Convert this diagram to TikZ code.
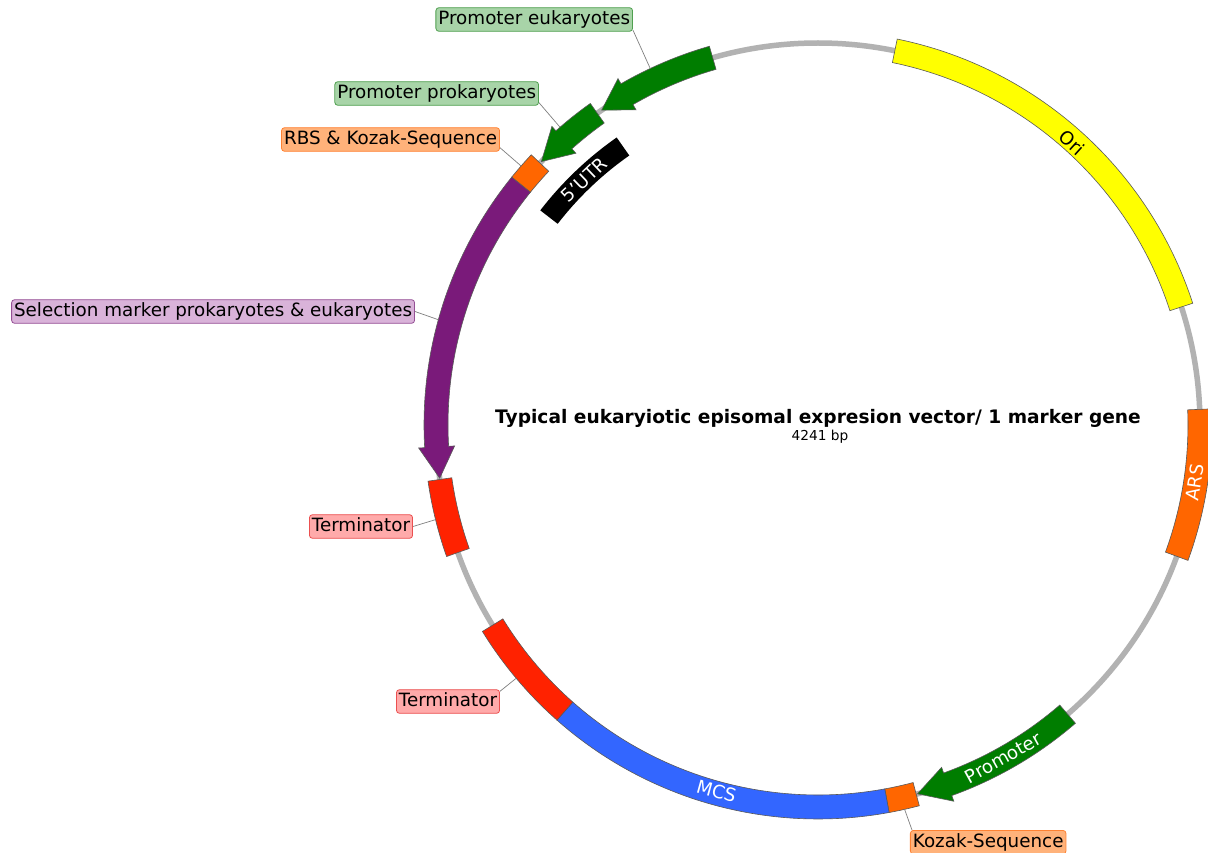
\documentclass[tikz,border=0pt]{standalone}
\usepackage{fontspec}
\setmainfont{DejaVu Sans}
\definecolor{fgreen}{RGB}{0,125,0}
\definecolor{forange}{RGB}{255,102,0}
\definecolor{fpurple}{RGB}{122,26,122}
\definecolor{fred}{RGB}{255,34,0}
\definecolor{fblue}{RGB}{51,102,255}
\definecolor{fyellow}{RGB}{255,255,0}
\definecolor{lgreen}{RGB}{168,212,168}
\definecolor{dgreen}{RGB}{80,160,80}
\definecolor{lorange}{RGB}{255,178,122}
\definecolor{dorange}{RGB}{255,130,50}
\definecolor{lpurple}{RGB}{217,179,217}
\definecolor{dpurple}{RGB}{150,80,150}
\definecolor{lred}{RGB}{255,170,170}
\definecolor{dred}{RGB}{235,80,80}
\definecolor{backbone}{RGB}{178,178,178}
\newcommand\featbox[4][394]{%
  \draw[feat,fill=#2] (#3:370pt) arc[start angle=#3, end angle=#4, radius=370pt]
    -- (#4:#1pt) arc[start angle=#4, end angle=#3, radius=#1pt] -- cycle;}
\newcommand\featarrow[4]{%
  \draw[feat,fill=#1] (#2:370pt) arc[start angle=#2, end angle=#3, radius=370pt]
    -- (#3:364pt) -- (#4:382pt) -- (#3:400pt) -- (#3:394pt)
    arc[start angle=#3, end angle=#2, radius=394pt] -- cycle;}
\tikzset{
  feat/.style={draw=black!65, line width=0.6pt},
  lab/.style={draw, rounded corners=3pt, inner xsep=2.5pt, inner ysep=2.8pt,
    text height=13.8pt, text depth=4.2pt, font=\fontsize{18.3}{20}\selectfont, line width=0.8pt},
  glab/.style={lab, fill=lgreen, draw=dgreen},
  olab/.style={lab, fill=lorange, draw=dorange},
  plab/.style={lab, fill=lpurple, draw=dpurple},
  rlab/.style={lab, fill=lred, draw=dred},
  leader/.style={draw=black!50, line width=0.7pt},
  ftext/.style={font=\fontsize{18.3}{20}\selectfont, inner sep=0pt}
}
\begin{document}
\begin{tikzpicture}[x=1pt,y=1pt]
\useasboundingbox (-818,-427) rectangle (390,425);
\clip (-818,-427) rectangle (390,425);
\fill[white] (-818,-427) rectangle (390,425);
% backbone
\draw[backbone, line width=5.5pt] (0,0) circle[radius=382pt];
% features
\featbox{fyellow}{78.4}{18.0}
\featbox{forange}{2.35}{-20.1}
\featarrow{fgreen}{-49.2}{-70.15}{-74.9}
\featbox{forange}{-75.1}{-79.6}
\featbox{fblue}{-79.6}{-131.5}
\featbox{fred}{-131.5}{-148.4}
\featbox{fred}{199.5}{188.2}
\featarrow{fpurple}{141}{183.3}{188}
\featbox{forange}{136.7}{141}
\featarrow{fgreen}{125.3}{131.7}{136.4}
\featarrow{fgreen}{106}{120}{124.5}
\fill[black] (125:329pt) arc[start angle=125, end angle=142.3, radius=329pt]
  -- (142.3:351pt) arc[start angle=142.3, end angle=125, radius=351pt] -- cycle;
% feature texts
\node[ftext, rotate=-42] (tori) at (48:380pt) {Ori};
\node[ftext, text=white, rotate=81.3] (tars) at (-8.7:381pt) {ARS};
\node[ftext, text=white, rotate=29.1] (tprom) at (-60.9:381pt) {Promoter};
\node[ftext, text=white, rotate=-15.5] (tmcs) at (-105.5:380pt) {MCS};
\node[ftext, text=white, rotate=43.6] (tutr) at (133.6:339pt) {5'UTR};
% leader end points
\coordinate (cpe) at (115.2:394pt);
\coordinate (cpp) at (130.9:394pt);
\coordinate (crbs) at (138.9:394pt);
\coordinate (csel) at (164.5:394pt);
\coordinate (ctl) at (193.9:394pt);
\coordinate (ctb) at (220:394pt);
\coordinate (ckz) at (-77.3:394pt);
% labels
\node[glab, anchor=east] (pe) at (-185,405.5) {Promoter eukaryotes};
\node[glab, anchor=east] (pp) at (-279,331.5) {Promoter prokaryotes};
\node[olab, anchor=east] (rbs) at (-318,285.5) {RBS \& Kozak-Sequence};
\node[plab, anchor=east] (sel) at (-403,113.5) {Selection marker prokaryotes \& eukaryotes};
\node[rlab, anchor=east] (tl) at (-405,-101.5) {Terminator};
\node[rlab, anchor=east] (tb) at (-318,-276.5) {Terminator};
\node[olab, anchor=north west] (kz) at (92,-405) {Kozak-Sequence};
% leaders
\draw[leader] ([yshift=1.5pt]pe.south east) -- (cpe);
\draw[leader] ([yshift=3pt]pp.south east) -- (cpp);
\draw[leader] ([yshift=4pt]rbs.south east) -- (crbs);
\draw[leader] (sel.east) -- (csel);
\draw[leader] (tl.east) -- (ctl);
\draw[leader] ([yshift=-2pt]tb.north east) -- (ctb);
\draw[leader] ([xshift=2pt]kz.north west) -- (ckz);
% title
\node[font=\bfseries\fontsize{18.6}{20}\selectfont, inner sep=0pt] (title) at (0,7)
  {Typical eukaryiotic episomal expresion vector/ 1 marker gene};
\node[font=\fontsize{13.7}{15}\selectfont, inner sep=0pt] (bp) at (2,-12) {4241 bp};
\end{tikzpicture}
\end{document}
